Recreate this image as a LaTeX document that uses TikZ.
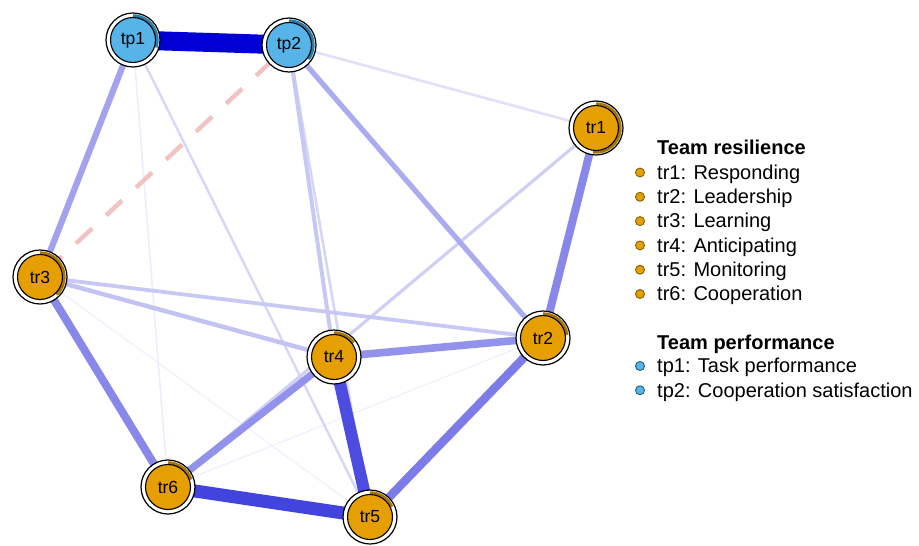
\documentclass[tikz,border=0pt]{standalone}
\usepackage{fontspec}
\setmainfont{Liberation Sans}

\pgfdeclarelayer{edgelayer}
\pgfsetlayers{edgelayer,main}

% node colours
\definecolor{trfill}{HTML}{E69F00}
\definecolor{trpie}{HTML}{A8740A}
\definecolor{tpfill}{HTML}{56B4E9}
\definecolor{tppie}{HTML}{2A7DA6}
\definecolor{trdot}{HTML}{8A6000}
\definecolor{tpdot}{HTML}{1F5F80}
% edge colours, weakest to strongest
\definecolor{ea}{HTML}{F1F1FD}
\definecolor{eb}{HTML}{EDEDFC}
\definecolor{ec}{HTML}{E0E0F9}
\definecolor{ed}{HTML}{D6D6F7}
\definecolor{ee}{HTML}{D0D0F6}
\definecolor{ef}{HTML}{C8C8F4}
\definecolor{eg}{HTML}{C2C2F3}
\definecolor{eh}{HTML}{ABABF0}
\definecolor{ei}{HTML}{A2A2EE}
\definecolor{ej}{HTML}{9292EC}
\definecolor{ek}{HTML}{8888EA}
\definecolor{el}{HTML}{7C7CE8}
\definecolor{em}{HTML}{4C4CE0}
\definecolor{en}{HTML}{4343DE}
\definecolor{eo}{HTML}{0000D5}
\definecolor{negedge}{HTML}{F0C4C4}

\tikzset{
  netnode/.style={circle, draw=black, line width=1.1pt, minimum size=45pt,
    inner sep=0pt, font=\fontsize{17.5}{19}\selectfont},
  wire/.style={line cap=butt},
  negwire/.style={wire, draw=negedge, line width=4.5pt, dash pattern=on 22pt off 19pt},
  legtext/.style={anchor=base west, inner sep=0pt, font=\fontsize{20}{22}\selectfont},
  leghead/.style={anchor=base west, inner sep=0pt, font=\fontsize{20}{22}\selectfont\bfseries},
  legdot/.style={circle, line width=0.9pt, minimum size=9pt, inner sep=0pt},
}

% name, x, y, label, fill, pie colour, pie fraction
\newcommand\netnode[7]{%
  \fill[white] (#2,#3) circle[radius=27pt];
  \draw[#6, line width=3pt] (#2,#3) ++(90:24.2pt)
    arc[start angle=90, end angle={90-360*#7}, radius=24.2pt];
  \draw[black, line width=1.2pt] (#2,#3) circle[radius=27pt];
  \node[netnode, fill=#5] (#1) at (#2,#3) {#4};
}

\begin{document}
\begin{tikzpicture}[x=1pt,y=1pt]
\useasboundingbox (0,0) rectangle (919,-546);

% network nodes
\netnode{tp1}{133}{-40}{tp1}{tpfill}{tppie}{0.30}
\netnode{tp2}{289}{-45}{tp2}{tpfill}{tppie}{0.35}
\netnode{tr1}{596}{-128}{tr1}{trfill}{trpie}{0.52}
\netnode{tr3}{40}{-277}{tr3}{trfill}{trpie}{0.38}
\netnode{tr2}{543}{-338}{tr2}{trfill}{trpie}{0.23}
\netnode{tr4}{334}{-357}{tr4}{trfill}{trpie}{0.15}
\netnode{tr6}{168}{-487}{tr6}{trfill}{trpie}{0.20}
\netnode{tr5}{370}{-517}{tr5}{trfill}{trpie}{0.18}

% connectors, weakest first
\begin{pgfonlayer}{edgelayer}
\draw[wire, draw=ea, line width=1.4pt] (tr3) -- (tr5);
\draw[wire, draw=ea, line width=1.4pt] (tr6) -- (tr2);
\draw[wire, draw=eb, line width=1.6pt] (tp1) -- (tr6);
\draw[wire, draw=ec, line width=2.6pt] (tp2) -- (tr1);
\draw[wire, draw=ed, line width=2.4pt] (tp1) -- (tr5);
\draw[wire, draw=ed, line width=2.6pt] (tp2) -- (tr5);
\draw[wire, draw=ee, line width=3.2pt] (tr1) -- (tr6);
\draw[wire, draw=ef, line width=3.8pt] (tr3) -- (tr2);
\draw[wire, draw=ef, line width=4.0pt] (tp2) -- (tr4);
\draw[wire, draw=eg, line width=4.4pt] (tr3) -- (tr4);
\draw[negwire] (tp2) -- (tr3);
\draw[wire, draw=eh, line width=5.2pt] (tp2) -- (tr2);
\draw[wire, draw=ei, line width=6.2pt] (tp1) -- (tr3);
\draw[wire, draw=ej, line width=7.2pt] (tr4) -- (tr6);
\draw[wire, draw=ej, line width=7.6pt] (tr4) -- (tr2);
\draw[wire, draw=ek, line width=8pt] (tr3) -- (tr6);
\draw[wire, draw=ek, line width=8pt] (tr1) -- (tr2);
\draw[wire, draw=el, line width=8.5pt] (tr2) -- (tr5);
\draw[wire, draw=em, line width=12pt] (tr4) -- (tr5);
\draw[wire, draw=en, line width=13pt] (tr6) -- (tr5);
\draw[wire, draw=eo, line width=19pt] (tp1) -- (tp2);
\end{pgfonlayer}

% legend
\node[leghead] (hres) at (657,-154) {Team resilience};
\foreach \i/\txt [count=\k] in {tr1/Responding, tr2/Leadership, tr3/Learning,
    tr4/Anticipating, tr5/Monitoring, tr6/Cooperation} {
  \node[legdot, fill=trfill, draw=trdot] (dot\i) at (640,{-172.5-24.3*(\k-1)}) {};
  \node[legtext] (lab\i) at (657,{-179.3-24.3*(\k-1)}) {\i: \txt};
}
\node[leghead] (hperf) at (657,-349) {Team performance};
\node[legdot, fill=tpfill, draw=tpdot] (dottp1) at (640,-366) {};
\node[legtext] (labtp1) at (657,-372.8) {tp1: Task performance};
\node[legdot, fill=tpfill, draw=tpdot] (dottp2) at (640,-390.3) {};
\node[legtext] (labtp2) at (657,-397.1) {tp2: Cooperation satisfaction};
\end{tikzpicture}
\end{document}
